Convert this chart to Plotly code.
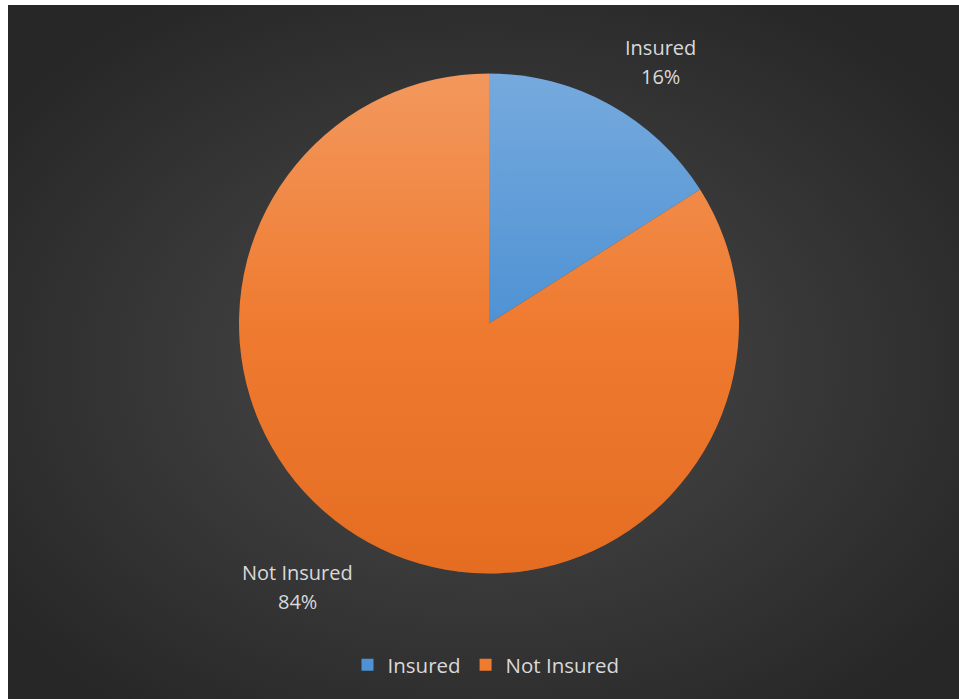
import base64
import plotly.graph_objects as go

# Insurance coverage split
labels = ["Insured", "Not Insured"]
values = [16, 84]
colors = ["#4f92d4", "#ef7b30"]

# Figure geometry (pixels)
W, H = 959, 699
CX, CY, R = 489, 323.5, 250
PANEL = (8, 5, W, H)  # dark chart panel: left, top, right, bottom
LABEL_POS = [(660, 62), (297, 587)]  # anchor of each data label
LINE_GAP = 14.5
LEGEND_CX, LEGEND_CY = 486, 665
TEXT_COLOR = "#d9d9d9"
FONT = "Open Sans"


def svg_uri(svg):
    return "data:image/svg+xml;base64," + base64.b64encode(svg.encode()).decode()


pw, ph = PANEL[2] - PANEL[0], PANEL[3] - PANEL[1]
bg_svg = (
    f'<svg xmlns="http://www.w3.org/2000/svg" width="{pw}" height="{ph}" '
    f'viewBox="0 0 {pw} {ph}" preserveAspectRatio="none">'
    '<defs><radialGradient id="g" cx="50%" cy="52%" r="62%">'
    '<stop offset="0" stop-color="#4b4b4b"/>'
    '<stop offset="1" stop-color="#272727"/>'
    '</radialGradient></defs>'
    f'<rect width="{pw}" height="{ph}" fill="url(#g)"/></svg>'
)

# soft top-to-bottom shading laid over the pie disc
shade_svg = (
    '<svg xmlns="http://www.w3.org/2000/svg" width="500" height="500" viewBox="0 0 500 500">'
    '<defs><linearGradient id="s" x1="0" y1="0" x2="0" y2="1">'
    '<stop offset="0" stop-color="#ffffff" stop-opacity="0.22"/>'
    '<stop offset="0.5" stop-color="#ffffff" stop-opacity="0"/>'
    '<stop offset="0.5" stop-color="#cc4c00" stop-opacity="0"/>'
    '<stop offset="1" stop-color="#cc4c00" stop-opacity="0.3"/>'
    '</linearGradient></defs>'
    '<circle cx="250" cy="250" r="250" fill="url(#s)"/></svg>'
)

fig = go.Figure(
    go.Pie(
        labels=labels,
        values=values,
        sort=False,
        direction="clockwise",
        rotation=0,
        marker=dict(colors=colors, line=dict(width=0)),
        textinfo="none",
        hoverinfo="label+percent",
        domain=dict(
            x=[(CX - R) / W, (CX + R) / W],
            y=[1 - (CY + R) / H, 1 - (CY - R) / H],
        ),
    )
)

total = sum(values)
annotations = []
for lab, val, (lx, ly) in zip(labels, values, LABEL_POS):
    pct = round(val / total * 100)
    for txt, dy in ((lab, -LINE_GAP), (f"{pct}%", LINE_GAP)):
        annotations.append(
            dict(
                text=txt,
                x=lx / W,
                y=1 - (ly + dy) / H,
                xref="paper",
                yref="paper",
                showarrow=False,
                xanchor="center",
                yanchor="middle",
                font=dict(family=FONT, size=20, color=TEXT_COLOR),
            )
        )

fig.update_layout(
    width=W,
    height=H,
    margin=dict(l=0, r=0, t=0, b=0),
    paper_bgcolor="#ffffff",
    plot_bgcolor="rgba(0,0,0,0)",
    font=dict(family=FONT, size=20, color=TEXT_COLOR),
    showlegend=True,
    legend=dict(
        orientation="h",
        x=LEGEND_CX / W,
        xanchor="center",
        y=1 - LEGEND_CY / H,
        yanchor="middle",
        bgcolor="rgba(0,0,0,0)",
        font=dict(family=FONT, size=20.5, color=TEXT_COLOR),
        itemwidth=30,
        traceorder="normal",
    ),
    annotations=annotations,
    images=[
        dict(
            source=svg_uri(bg_svg),
            xref="paper",
            yref="paper",
            x=PANEL[0] / W,
            y=1 - PANEL[1] / H,
            sizex=pw / W,
            sizey=ph / H,
            xanchor="left",
            yanchor="top",
            sizing="stretch",
            layer="below",
        ),
        dict(
            source=svg_uri(shade_svg),
            xref="paper",
            yref="paper",
            x=(CX - R) / W,
            y=1 - (CY - R) / H,
            sizex=2 * R / W,
            sizey=2 * R / H,
            xanchor="left",
            yanchor="top",
            sizing="stretch",
            layer="above",
        ),
    ],
)

fig.write_html("out.html")
